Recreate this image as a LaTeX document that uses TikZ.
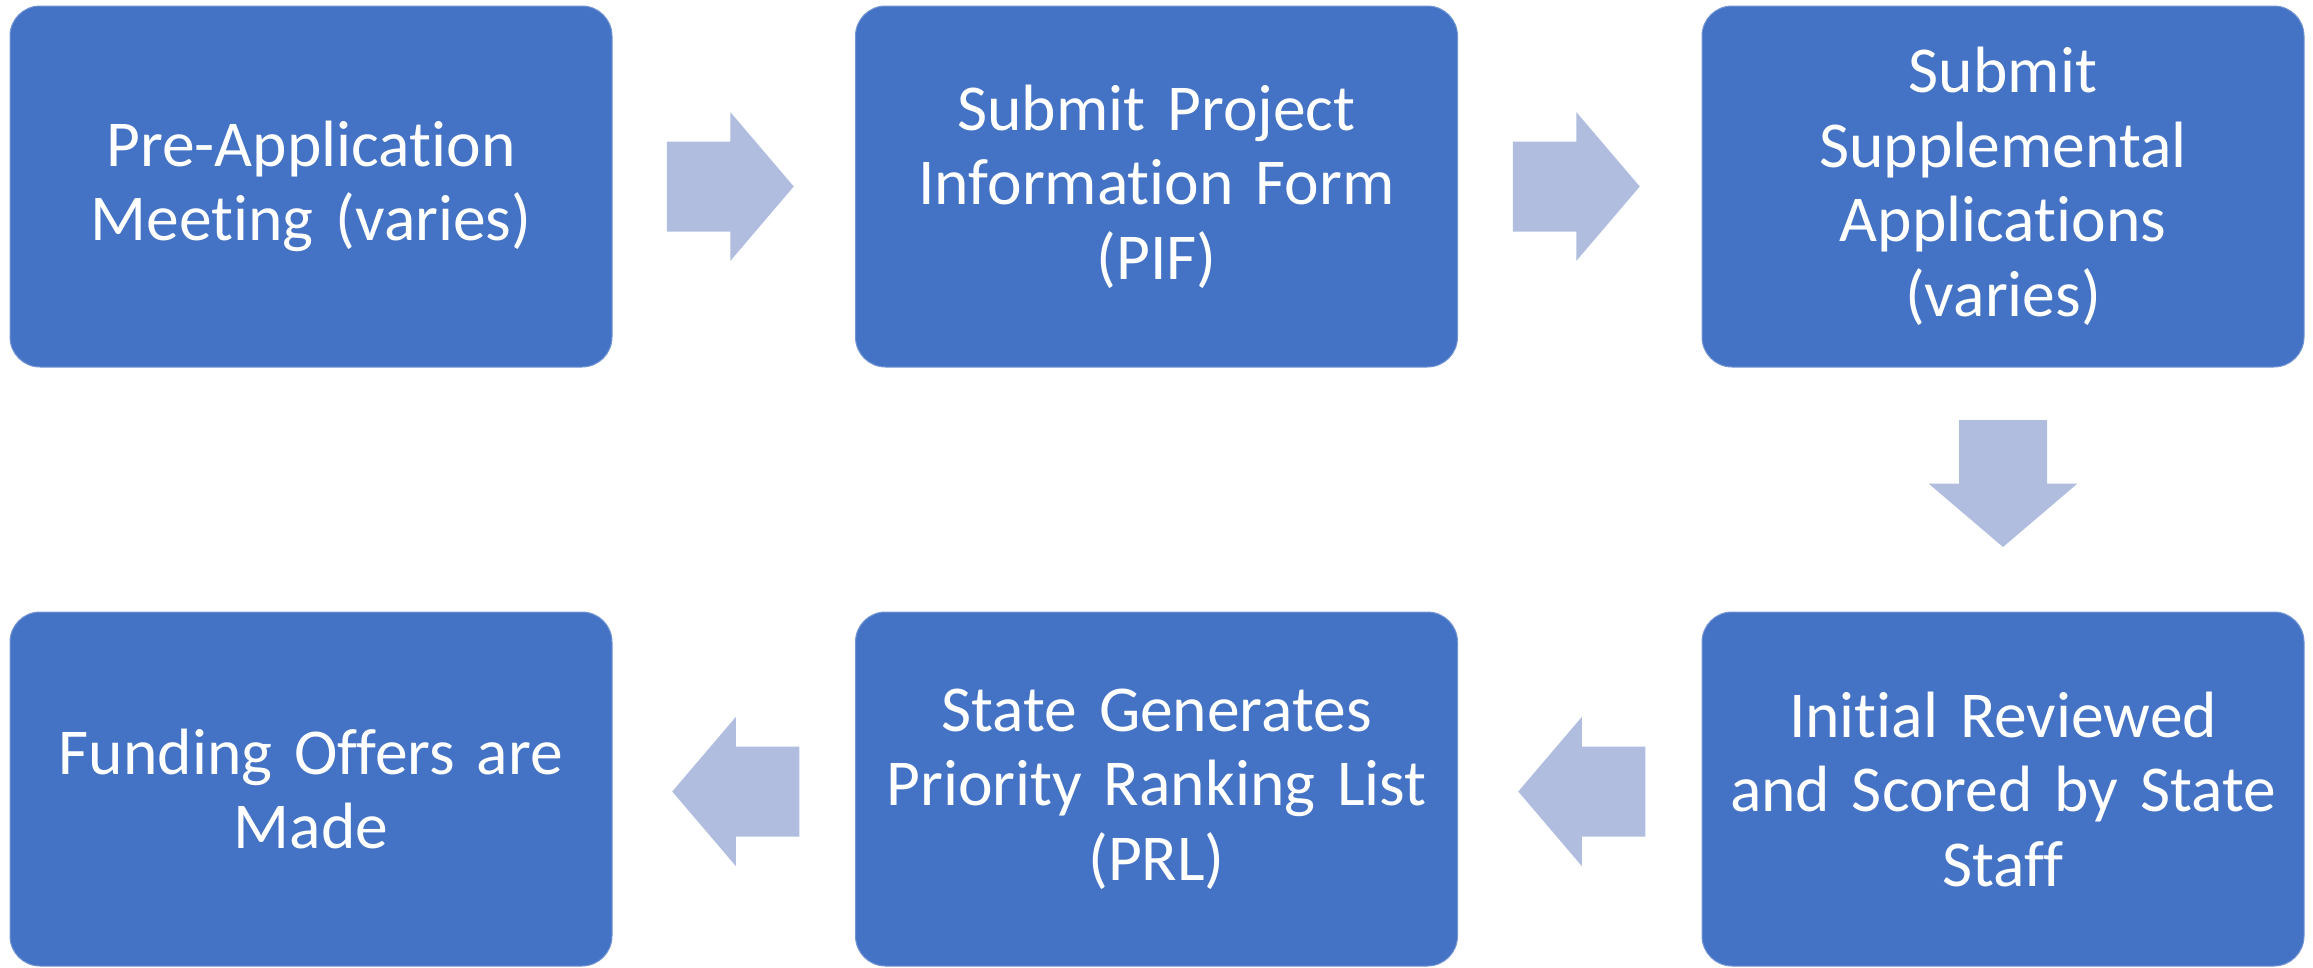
\documentclass[tikz,border=0pt]{standalone}
\usepackage{fontspec}
\setmainfont[Ligatures={NoCommon}]{Carlito}
\usetikzlibrary{calc}
\definecolor{boxblue}{HTML}{4472C4}
\definecolor{arrowblue}{HTML}{B0BDDF}
\begin{document}
\begin{tikzpicture}[x=1pt,y=-1pt,
  stepbox/.style={fill=boxblue, draw=boxblue!75!white, line width=1pt,
    rounded corners=30pt, minimum width=602pt, minimum height=361pt,
    text width=590pt, align=center, text=white, inner sep=0pt,
    font=\fontsize{65.5}{74.5}\selectfont},
  flowarrow/.style={fill=arrowblue}]
\useasboundingbox (0,0) rectangle (2313,967);
% top row
\node[stepbox] (b1) at (311,186.5) {Pre-Application\\Meeting (varies)};
\node[stepbox] (b2) at (1156.5,186.5) {Submit Project\\Information Form\\(PIF)};
\node[stepbox] (b3) at (2003,186.5) {Submit\\Supplemental\\Applications\\(varies)};
% bottom row
\node[stepbox, minimum height=354pt] (b4) at (2003,789) {Initial Reviewed\\and Scored by State\\Staff};
\node[stepbox, minimum height=354pt] (b5) at (1156.5,789) {State Generates\\Priority Ranking List\\(PRL)};
\node[stepbox, minimum height=354pt] (b6) at (311,789) {Funding Offers are\\Made};
% arrow anchors
\coordinate (a1) at ($($(b1.east)!0.5!(b2.west)$)+(-3.5,0)$);
\coordinate (a2) at ($($(b2.east)!0.5!(b3.west)$)+(-3.5,0)$);
\coordinate (a3) at ($($(b3.south)!0.5!(b4.north)$)+(0,-6)$);
\coordinate (a4) at ($($(b4.west)!0.5!(b5.east)$)+(2,2.5)$);
\coordinate (a5) at ($($(b5.west)!0.5!(b6.east)$)+(2,2.5)$);
% right arrows
\foreach \c in {a1,a2}{
  \begin{scope}[shift={(\c)}]
    \fill[flowarrow] (-63.5,-45) -- (0,-45) -- (0,-74.5) -- (63.5,0)
      -- (0,74.5) -- (0,45) -- (-63.5,45) -- cycle;
  \end{scope}
}
% down arrow
\begin{scope}[shift={(a3)}]
  \fill[flowarrow] (-44,-63.5) -- (-44,0) -- (-74.5,0) -- (0,63.5)
    -- (74.5,0) -- (44,0) -- (44,-63.5) -- cycle;
\end{scope}
% left arrows
\foreach \c in {a4,a5}{
  \begin{scope}[shift={(\c)}]
    \fill[flowarrow] (63.5,-45) -- (0,-45) -- (0,-74.5) -- (-63.5,0)
      -- (0,74.5) -- (0,45) -- (63.5,45) -- cycle;
  \end{scope}
}
\end{tikzpicture}
\end{document}
